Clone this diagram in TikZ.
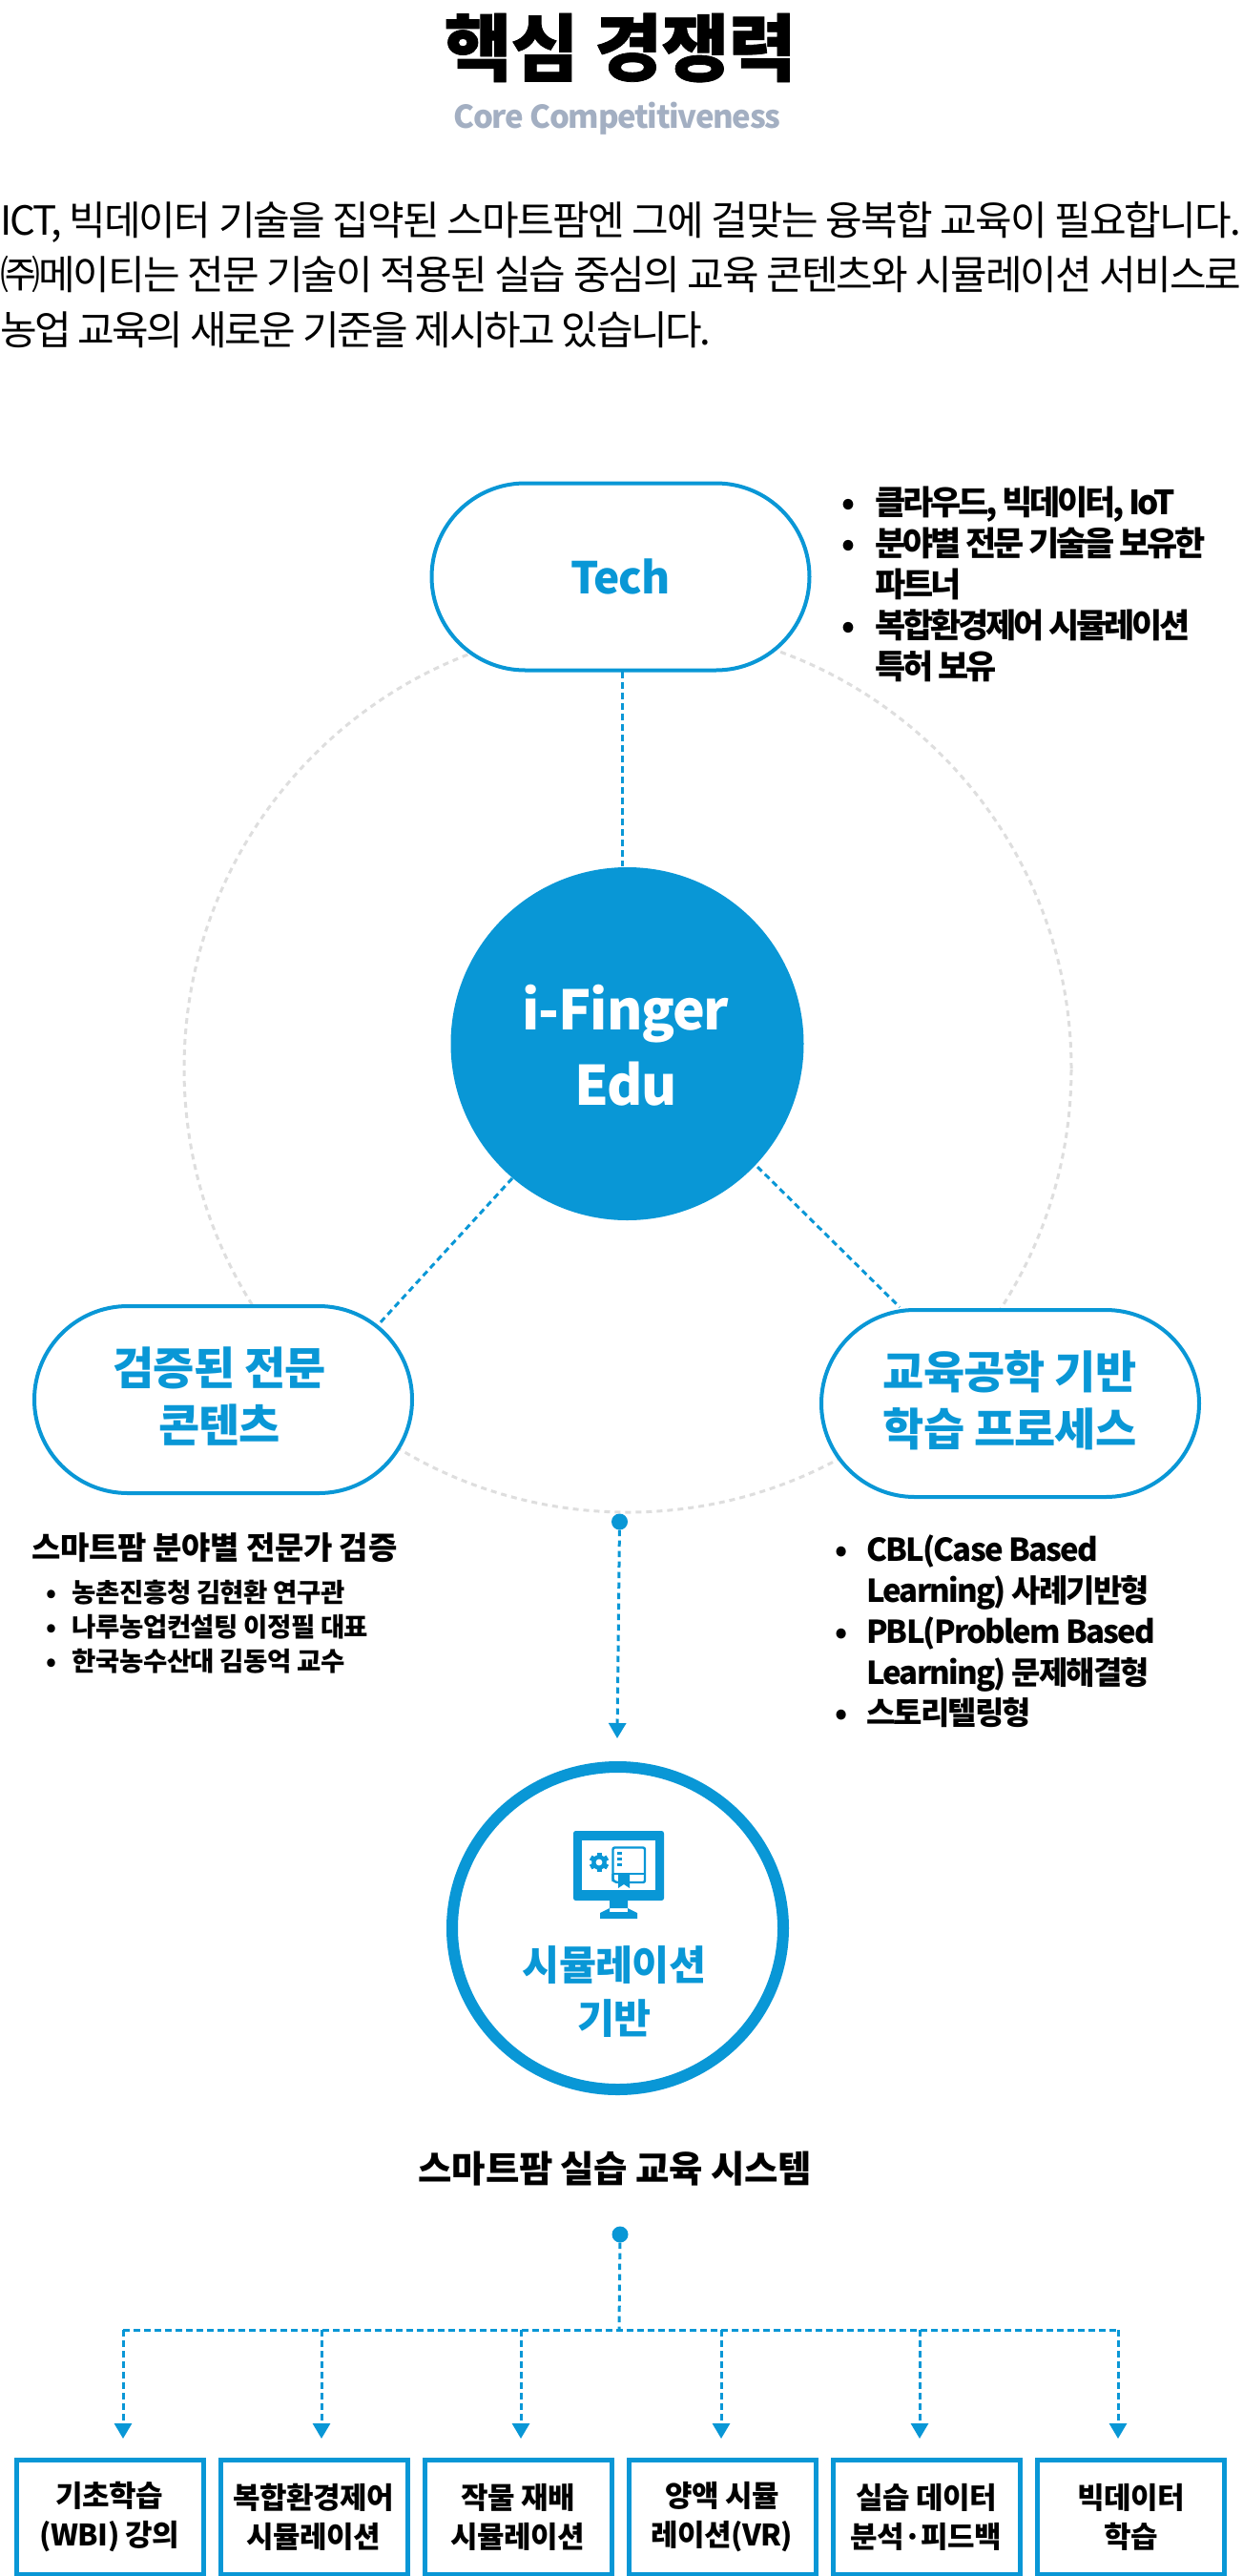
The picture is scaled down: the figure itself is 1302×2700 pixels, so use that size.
\documentclass[tikz,border=0pt]{standalone}
\usepackage{fontspec}
\usetikzlibrary{arrows.meta,shapes.geometric}
\setmainfont{Noto Sans CJK KR}
\newcommand{\tx}[3]{\fontsize{#1}{#2}\selectfont\addfontfeature{LetterSpace=#3}}
\definecolor{brand}{HTML}{0997D6}
\definecolor{ringgray}{HTML}{DEDEDE}
\definecolor{subgray}{HTML}{A3AFC2}
\tikzset{
  lbl/.style={inner sep=0pt,outer sep=0pt,text=black,align=center},
  pill/.style={draw=brand,line width=4pt,fill=white,rounded corners=98pt,minimum width=396pt,minimum height=196pt,inner sep=0pt,outer sep=0pt,text=brand,align=center},
  pilltext/.style={lbl,text=brand,font=\bfseries\tx{47}{60}{-2}},
  link/.style={draw=brand,line width=3pt,dash pattern=on 6.5pt off 4.5pt},
  linkarrow/.style={link,-{Triangle[length=16pt,width=18pt]}},
  hub/.style={circle,fill=brand,inner sep=0pt,outer sep=0pt,minimum size=17pt},
  leaf/.style={draw=brand,line width=5pt,fill=white,minimum width=196pt,minimum height=120pt,inner sep=0pt,outer sep=0pt,text=black,align=center,font=\bfseries\tx{31}{41}{-2}},
  listnode/.style={inner sep=0pt,outer sep=0pt,anchor=north west,text=black,align=left},
}
\newcommand{\bul}[1]{\makebox[#1][l]{•}}
\begin{document}
\begin{tikzpicture}[x=1pt,y=-1pt]
\useasboundingbox (0,0) rectangle (1302,2700);
\fill[white] (0,0) rectangle (1302,2700);

% heading
\node[lbl,font=\bfseries\tx{77}{80}{-1}\addfontfeature{FakeBold=1}] (title) at (650,50) {핵심 경쟁력};
\node[lbl,text=subgray,font=\bfseries\tx{33}{40}{-4}] (subtitle) at (647,124) {Core Competitiveness};
\node[lbl,anchor=north west,align=left,font=\fontsize{42}{57.7}\selectfont] (intro) at (0,211)
 {\addfontfeature{LetterSpace=-4.3}ICT, 빅데이터 기술을 집약된 스마트팜엔 그에 걸맞는 융복합 교육이 필요합니다.\\
  \addfontfeature{LetterSpace=-4.6}㈜메이티는 전문 기술이 적용된 실습 중심의 교육 콘텐츠와 시뮬레이션 서비스로\\
  \addfontfeature{LetterSpace=-6}농업 교육의 새로운 기준을 제시하고 있습니다.};

% ring
\node[circle,draw=ringgray,line width=3pt,dash pattern=on 6pt off 5pt,minimum size=930pt,inner sep=0pt,outer sep=0pt] (ring) at (658,1120) {};

% nodes
\node[pill,font=\bfseries\tx{46}{60}{-3}] (tech) at (650.5,604.5) {Tech};
\node[circle,fill=brand,minimum size=370pt,inner sep=0pt,outer sep=0pt] (core) at (657.5,1094) {};
\node[lbl,text=white,font=\bfseries\tx{57}{79}{-2}] (corelabel) at (656,1096) {i-Finger\\Edu};
\node[pill] (content) at (234,1467) {};
\node[pilltext] (contentlabel) at (230,1464) {검증된 전문\\콘텐츠};
\node[pill] (process) at (1059,1471) {};
\node[pilltext] (processlabel) at (1058.5,1467.5) {교육공학 기반\\학습 프로세스};

% connectors around the core
\coordinate (coreTech) at (652,704);
\coordinate (coreTop) at (652,908);
\coordinate (coreL) at (537,1235);
\coordinate (pillL) at (397,1388);
\coordinate (coreR) at (794,1223);
\coordinate (pillR) at (943,1370);
\draw[link] (coreTech) -- (coreTop);
\draw[link] (coreL) -- (pillL);
\draw[link] (coreR) -- (pillR);

% side lists
\node[listnode,font=\bfseries\tx{35}{43}{-9}] (techlist) at (882,509) {%
 \begin{tabular}{@{}l@{}l@{}}
 \bul{35pt}&클라우드, 빅데이터, IoT\\
 \bul{35pt}&분야별 전문 기술을 보유한\\
 &파트너\\
 \bul{35pt}&복합환경제어 시뮬레이션\\
 &특허 보유
 \end{tabular}};
\node[lbl,anchor=west,font=\bfseries\tx{33}{40}{-1}] (contenthead) at (33,1622) {스마트팜 분야별 전문가 검증};
\node[listnode,font=\bfseries\tx{27.5}{36}{-2}] (contentlist) at (48,1654) {%
 \begin{tabular}{@{}l@{}l@{}}
 \bul{28pt}&농촌진흥청 김현환 연구관\\
 \bul{28pt}&나루농업컨설팅 이정필 대표\\
 \bul{28pt}&한국농수산대 김동억 교수
 \end{tabular}};
\node[listnode,font=\bfseries\tx{33}{42.7}{-5.5}] (processlist) at (875,1607) {%
 \begin{tabular}{@{}l@{}l@{}}
 \bul{33pt}&CBL(Case Based\\
 &Learning) 사례기반형\\
 \bul{33pt}&PBL(Problem Based\\
 &Learning) 문제해결형\\
 \bul{33pt}&스토리텔링형
 \end{tabular}};

% simulation
\node[hub] (dotA) at (649.5,1595) {};
\coordinate (arrowA) at (647,1822);
\draw[linkarrow] (dotA) -- (arrowA);
\node[ellipse,draw=brand,line width=12pt,fill=white,minimum width=347pt,minimum height=338pt,inner sep=0pt,outer sep=0pt] (sim) at (647.5,2021) {};
\node[lbl,text=brand,font=\bfseries\tx{42.5}{56}{-2}] (simlabel) at (644,2087.5) {시뮬레이션\\기반};

% monitor icon
\fill[brand,rounded corners=2.5pt] (601,1919) rectangle (696,1992);
\fill[white] (610,1929) rectangle (687,1981);
\fill[brand] (639,1990) rectangle (658,2004) (629,2011) -- (629,2005) -- (639,2000) -- (658,2000) -- (668,2005) -- (668,2011) -- cycle;
\foreach \a in {0,60,...,300}{\fill[brand,rotate around={\a:(628,1952)}] (625.5,1942) rectangle (630.5,1962);}
\fill[brand] (628,1952) circle (7.8pt);
\fill[white] (628,1952) circle (3.4pt);
\draw[brand,line width=2.4pt,rounded corners=2pt] (642.5,1972) -- (642.5,1936.5) -- (676,1936.5) -- (676,1973) -- (660,1973);
\draw[brand,line width=2.4pt,rounded corners=3pt] (642.5,1964) -- (642.5,1972) -- (648,1973);
\draw[brand,line width=2.4pt] (642.5,1964) -- (676,1964);
\fill[brand] (648,1964) -- (660,1964) -- (660,1979) -- (654,1975) -- (648,1979) -- cycle;
\foreach \yy in {1941,1947,1953}{\fill[brand] (647,\yy) rectangle (652,\yy+3);}

% system
\node[lbl,font=\bfseries\tx{38.5}{44}{-1}] (syshead) at (645,2273) {스마트팜 실습 교육 시스템};
\node[hub] (dotB) at (650,2342) {};
\coordinate (junction) at (649,2442);
\coordinate (busL) at (129,2442);
\coordinate (busR) at (1171,2442);
\draw[link] (dotB) -- (junction);
\draw[link] (busL) -- (busR);

\node[leaf] (b1) at (115,2638) {기초학습\\(WBI) 강의};
\node[leaf] (b2) at (329,2638) {복합환경제어\\시뮬레이션};
\node[leaf] (b3) at (543,2638) {작물 재배\\시뮬레이션};
\node[leaf] (b4) at (757,2638) {양액 시뮬\\레이션(VR)};
\node[leaf] (b5) at (971,2638) {실습 데이터\\분석·피드백};
\node[leaf] (b6) at (1185.5,2638) {빅데이터\\학습};

\foreach \x/\n in {129/1,337/2,546/3,756/4,964/5,1172/6}{
  \coordinate (t\n) at (\x,2442);
  \coordinate (h\n) at (\x,2556);
  \draw[linkarrow] (t\n) -- (h\n);
}
\end{tikzpicture}
\end{document}
